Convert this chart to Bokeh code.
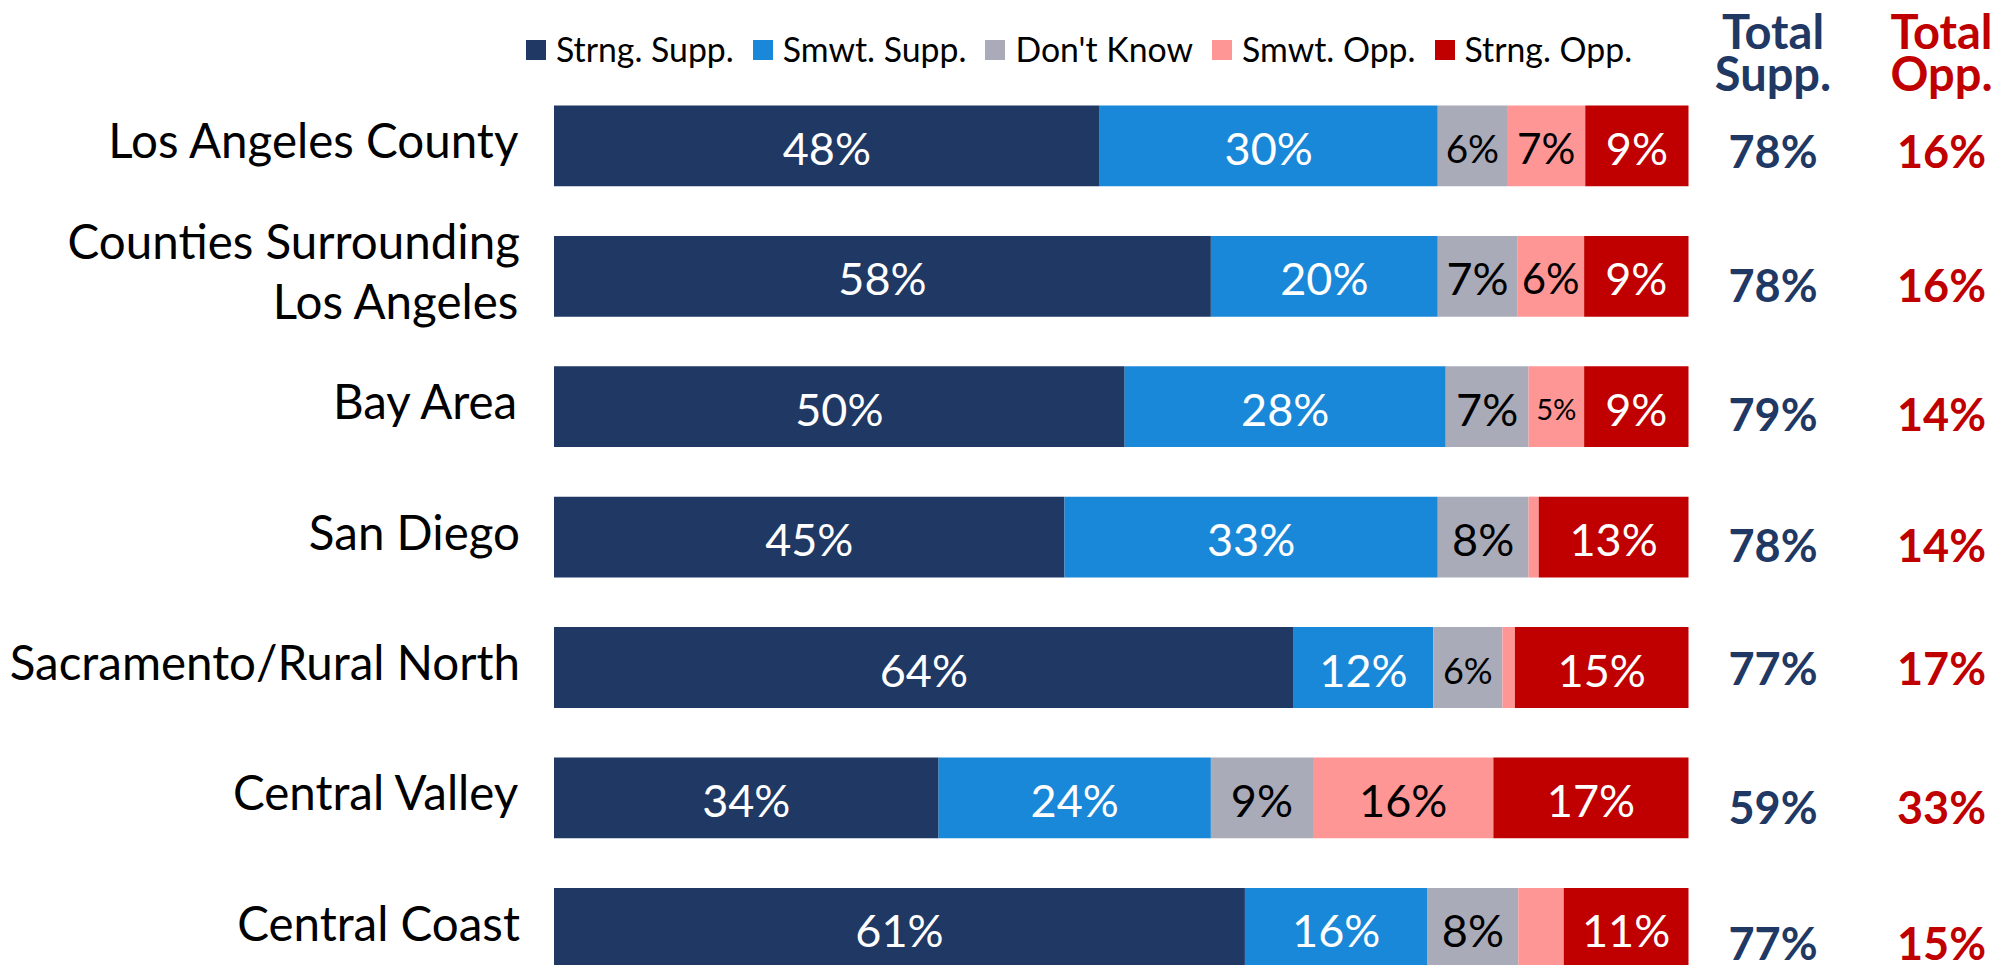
import numpy as np
from bokeh.plotting import figure
from bokeh.models import Range1d, ColumnDataSource, Legend, LegendItem
from bokeh.core.properties import value
from bokeh.embed import file_html
from bokeh.resources import INLINE

# ---------------- data ----------------
regions = ["Los Angeles County", "Counties Surrounding\nLos Angeles", "Bay Area", "San Diego",
           "Sacramento/Rural North", "Central Valley", "Central Coast"]
series_names = ["Strng. Supp.", "Smwt. Supp.", "Don't Know", "Smwt. Opp.", "Strng. Opp."]

# bar extents (% of respondents, as drawn)
strng_supp = [48.1, 57.9, 50.3, 45.0, 65.2, 33.9, 60.9]
smwt_supp = [29.8, 20.0, 28.3, 32.9, 12.3, 24.0, 16.1]
dont_know = [6.1, 7.0, 7.3, 8.0, 6.1, 9.0, 8.0]
smwt_opp = [6.9, 5.9, 4.9, 0.9, 1.1, 15.9, 4.0]
strng_opp = [9.1, 9.2, 9.2, 13.2, 15.3, 17.2, 11.0]

# printed data labels
strng_supp_lbl = [48, 58, 50, 45, 64, 34, 61]
smwt_supp_lbl = [30, 20, 28, 33, 12, 24, 16]
dont_know_lbl = [6, 7, 7, 8, 6, 9, 8]
smwt_opp_lbl = [7, 6, 5, None, None, 16, None]
strng_opp_lbl = [9, 9, 9, 13, 15, 17, 11]

total_supp = [78, 78, 79, 78, 77, 59, 77]
total_opp = [16, 16, 14, 14, 17, 33, 15]

# ---------------- style / layout ----------------
NAVY = "#1F3864"
BLUE = "#1A88D8"
GRAY = "#A9ABB8"
PINK = "#FF9696"
RED = "#C00000"
colors = [NAVY, BLUE, GRAY, PINK, RED]
label_colors = ["white", "white", "black", "black", "white"]
FONT = "Lato"

W, H = 2007, 965
X0_PX, PX_PER = 553.5, 11.345
ROW0_PX, ROW_PITCH = 145.4, 130.4
BAR_H = 0.62
LBL_SIZE = 45
small_label_scale = {(2, 0): 0.86, (3, 0): 0.94, (3, 1): 0.93, (3, 2): 0.65, (2, 4): 0.8}
total_nudge = [5, 9, 7, 8, 0, 9, 15]

p = figure(width=W, height=H, output_backend="svg", toolbar_location=None,
           x_range=Range1d(-X0_PX / PX_PER, (W - X0_PX) / PX_PER),
           y_range=Range1d((H - ROW0_PX) / ROW_PITCH, -ROW0_PX / ROW_PITCH),
           x_axis_location=None, y_axis_location=None,
           min_border=0, outline_line_color=None)
p.xgrid.visible = False
p.ygrid.visible = False
p.background_fill_color = "white"

series = [strng_supp, smwt_supp, dont_know, smwt_opp, strng_opp]
labels = [strng_supp_lbl, smwt_supp_lbl, dont_know_lbl, smwt_opp_lbl, strng_opp_lbl]
idx = np.arange(len(regions))
left = np.zeros(len(regions))
renderers = []
lx, ly, lt, lc, ls = [], [], [], [], []
for s, (vals, lbls) in enumerate(zip(series, labels)):
    vals = np.array(vals, dtype=float)
    right = left + vals
    r = p.hbar(y=idx, left=left, right=right, height=BAR_H, fill_color=colors[s], line_color=None)
    renderers.append(r)
    for i in range(len(regions)):
        if lbls[i] is None:
            continue
        lx.append((left[i] + right[i]) / 2)
        ly.append(i)
        lt.append(f"{lbls[i]}%")
        lc.append(label_colors[s])
        ls.append(f"{LBL_SIZE * small_label_scale.get((s, i), 1.0):.1f}px")
    left = right

lsrc = ColumnDataSource(dict(x=lx, y=ly, text=lt, color=lc, size=ls))
p.text(x="x", y="y", text="text", source=lsrc, text_color="color", text_font_size="size",
       text_font=value(FONT), text_align="center", text_baseline="middle", y_offset=2)

# category labels
p.text(x=[-3.0] * len(regions), y=idx, text=regions, text_align="right", text_baseline="middle",
       text_font=value(FONT), text_font_size="47.5px", text_color="black",
       text_line_height=1.05, y_offset=-6)

# totals
SUPP_X, OPP_X = 107.45, 122.3
p.text(x=[SUPP_X] * len(regions), y=idx, text=[f"{v}%" for v in total_supp], y_offset=total_nudge,
       text_align="center", text_baseline="middle", text_font=value(FONT), text_font_style="bold",
       text_font_size="45px", text_color=NAVY)
p.text(x=[OPP_X] * len(regions), y=idx, text=[f"{v}%" for v in total_opp], y_offset=total_nudge,
       text_align="center", text_baseline="middle", text_font=value(FONT), text_font_style="bold",
       text_font_size="45px", text_color=RED)

# column headers (two lines each)
hdr_y1 = (30.0 - ROW0_PX) / ROW_PITCH
hdr_y2 = (72.0 - ROW0_PX) / ROW_PITCH
p.text(x=[SUPP_X, SUPP_X], y=[hdr_y1, hdr_y2], text=["Total", "Supp."], text_align="center",
       text_baseline="middle", text_font=value(FONT), text_font_style="bold",
       text_font_size="47px", text_color=NAVY)
p.text(x=[OPP_X, OPP_X], y=[hdr_y1, hdr_y2], text=["Total", "Opp."], text_align="center",
       text_baseline="middle", text_font=value(FONT), text_font_style="bold",
       text_font_size="47px", text_color=RED)

legend = Legend(items=[LegendItem(label=n, renderers=[r]) for n, r in zip(series_names, renderers)],
                orientation="horizontal", location=(523, 896), glyph_width=25, glyph_height=25,
                label_standoff=8, spacing=16, padding=0, margin=0, border_line_color=None,
                background_fill_alpha=0, label_text_font=FONT, label_text_font_size="33.8px",
                label_text_color="black", label_text_baseline="middle")
p.add_layout(legend)

open("out.html", "w").write(file_html(p, INLINE))
